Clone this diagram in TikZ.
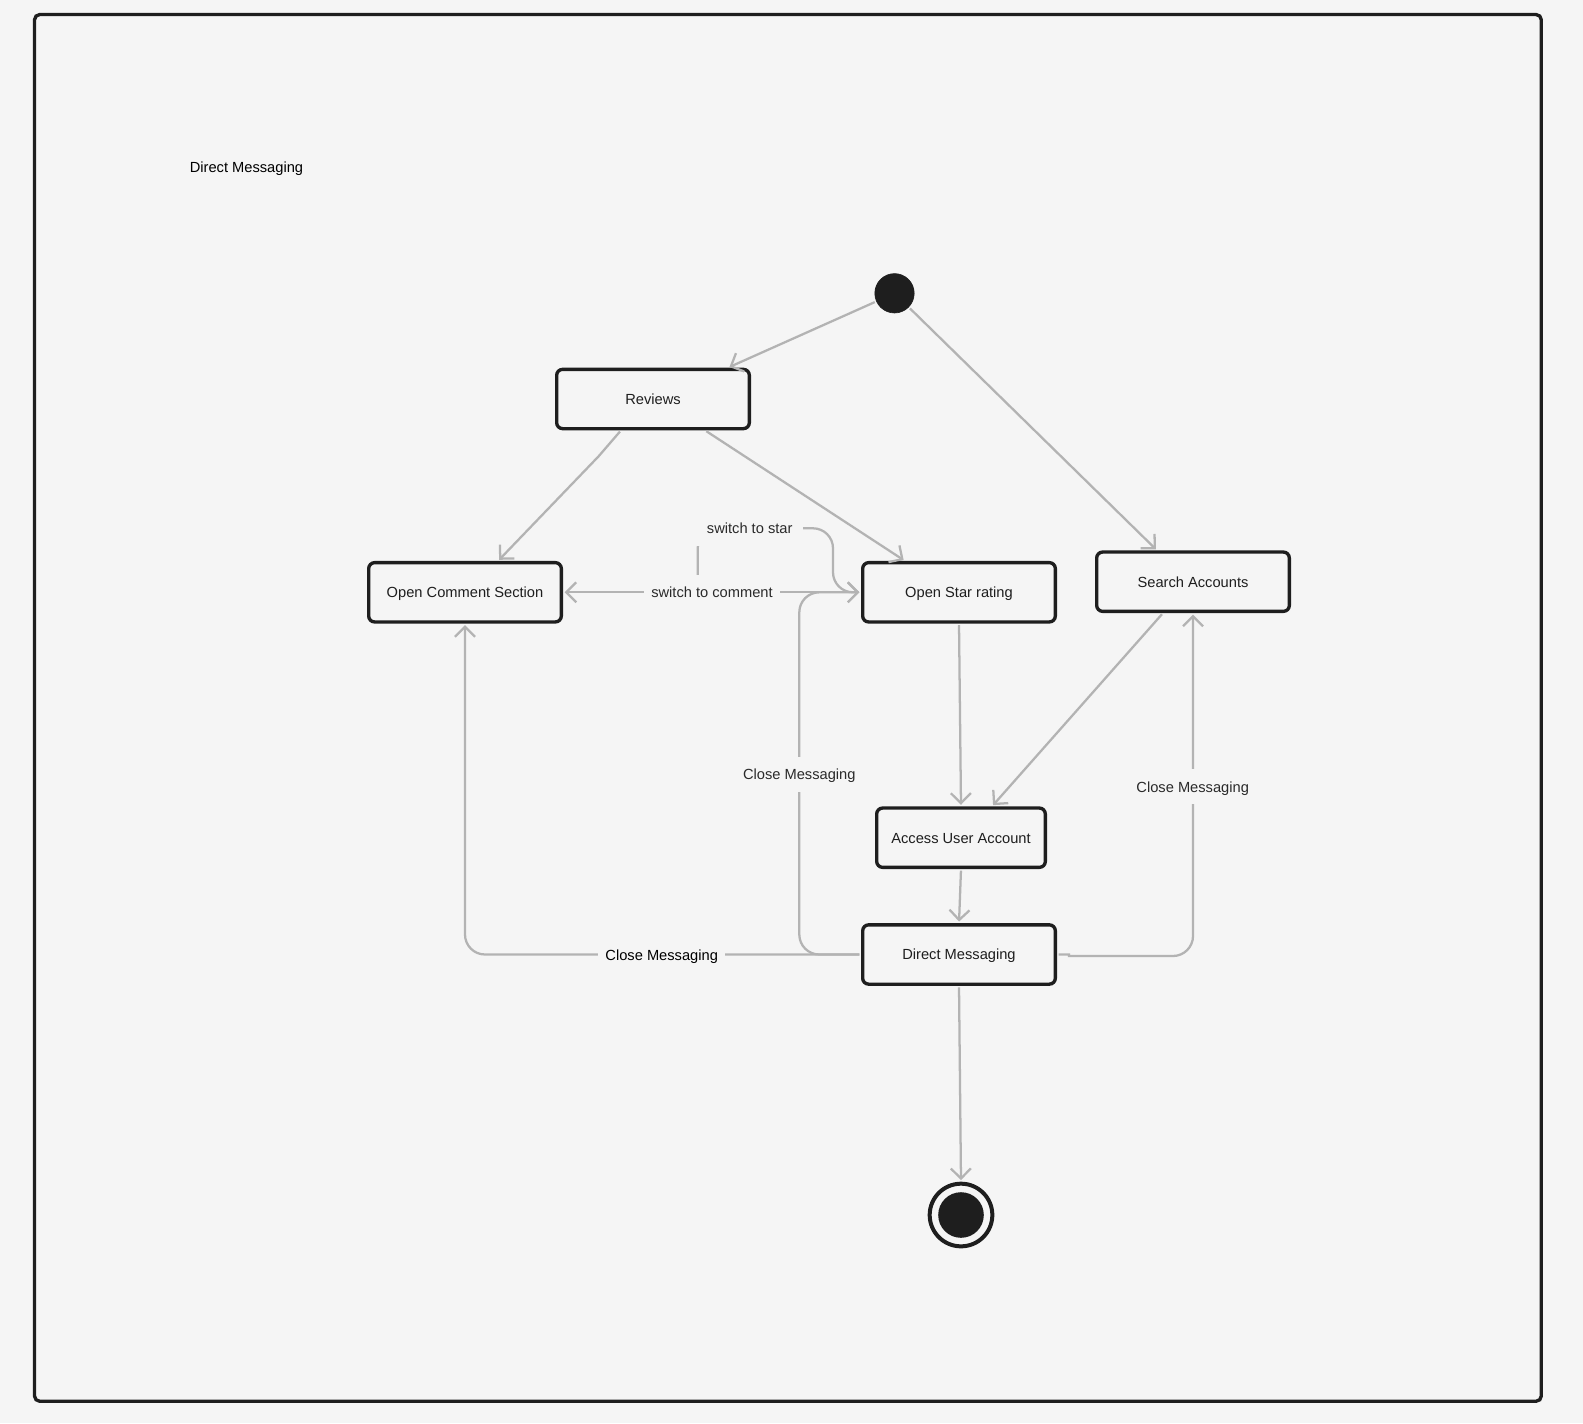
\documentclass[tikz,border=0pt]{standalone}
\usepackage{fontspec}
\setmainfont{Liberation Sans}
\usetikzlibrary{arrows.meta,calc}
\definecolor{bgc}{HTML}{F5F5F5}
\definecolor{ink}{HTML}{1E1E1E}
\definecolor{wire}{HTML}{B3B3B3}
\definecolor{lbl}{HTML}{2A2A2A}
\begin{document}
\begin{tikzpicture}[x=0.75pt,y=-0.75pt,
  statebox/.style={draw=ink, line width=2.5pt, rounded corners=4.5pt, fill=bgc,
    minimum width=144.5pt, minimum height=44.5pt, inner sep=0pt,
    text height=9pt, text depth=1pt,
    font=\fontsize{11}{13}\selectfont, text=ink},
  conn/.style={draw=wire, line width=1.7pt, shorten >=1.2pt, shorten <=1.2pt,
    -{Straight Barb[length=7.5pt,width=15pt]}},
  edgelabel/.style={fill=bgc, inner xsep=5.25pt, inner ysep=0pt, text height=9.5pt,
    text depth=1pt, minimum height=26pt, font=\fontsize{11}{13}\selectfont, text=lbl},
]
% background and frame
\fill[bgc] (0,0) rectangle (1583,1423);
\useasboundingbox (0,0) rectangle (1583,1423);
\draw[ink, line width=2.5pt, rounded corners=4pt] (34.5,14.5) rectangle (1541.3,1401.3);
\node[font=\fontsize{11}{13}\selectfont, text=black, anchor=base, inner sep=0pt] (title) at (246.5,173) {Direct Messaging};

% states
\node[circle, fill=ink, draw=ink, line width=0.5pt, minimum size=29.5pt, inner sep=0pt] (init) at (894.5,293.3) {};
\node[statebox] (rev) at (653,399) {Reviews};
\node[statebox] (com) at (465,592.3) {Open Comment Section};
\node[statebox] (star) at (959,592.3) {Open Star rating};
\node[statebox] (search) at (1193,581.7) {Search Accounts};
\node[statebox, minimum width=126.5pt] (acc) at (961,837.7) {Access User Account};
\node[statebox] (dm) at (959,954.5) {Direct Messaging};
\node[circle, draw=ink, line width=3pt, minimum size=47pt, inner sep=0pt] (fin) at (961,1215) {};
\node[circle, fill=ink, minimum size=34.2pt, inner sep=0pt] (finc) at (fin.center) {};

% connectors
\coordinate (sw) at (697.7,592.3);
\draw[conn] (init) -- ($(rev.north)+(75,0)$);
\draw[conn] (init) -- ($(search.north)+(-36,0)$);
\draw[conn] ($(rev.south)+(-32,0)$) -- (598,457) -- (596.5,458.5) -- ($(com.north)+(33,0)$);
\draw[conn] ($(rev.south)+(52,0)$) -- ($(star.north)+(-54,0)$);
\draw[conn] (star.west) -- (com.east);
\draw[conn, rounded corners=15pt] (sw) |- (833,528.3) |- (star.west);
\draw[conn, rounded corners=15pt] (dm.west) -| (com.south);
\draw[conn, rounded corners=15pt] (dm.west) -| (799.3,592.3) -- (star.west);
\draw[conn] (dm.east) -- ++(12,0) -- ++(0,1.5) -- (1173,956)
  .. controls (1184,956) and (1193,947) .. (1193,936) -- (search.south);
\draw[conn] ($(search.south)+(-30,0)$) -- ($(acc.north)+(31,0)$);
\draw[conn] (star.south) -- (acc.north);
\draw[conn] (acc.south) -- (dm.north);
\draw[conn] (dm.south) -- (fin.north);

% labels
\node[edgelabel] (lswc) at (712,592.3) {switch to comment};
\node[edgelabel, minimum width=80.5pt] (lsws) at (749.7,528.3) {switch to star};
\node[edgelabel, text=black] (lcl) at (661.7,955) {Close Messaging};
\node[edgelabel] (lcm) at (799.3,774.3) {Close Messaging};
\node[edgelabel] (lcr) at (1192.7,786.5) {Close Messaging};
\end{tikzpicture}
\end{document}
